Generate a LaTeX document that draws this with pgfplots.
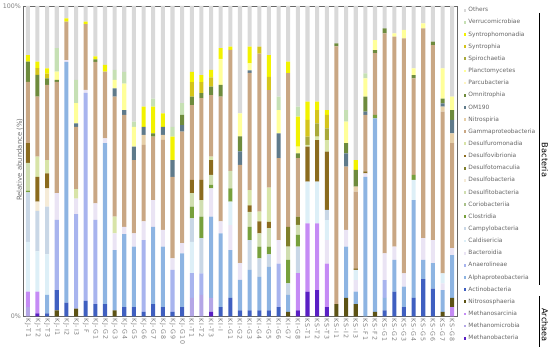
\documentclass[border=0pt]{standalone}
\usepackage{fontspec}
\setmainfont{DejaVu Sans}
\newfontfamily\xlabfont[LetterSpace=15]{DejaVu Sans}
\usepackage{pgfplots}
\usepackage{pgfplotstable}
\pgfplotsset{compat=1.18}

\definecolor{cMb}{HTML}{5A1FC4}
\definecolor{cMm}{HTML}{B4A6E6}
\definecolor{cMs}{HTML}{C58BF5}
\definecolor{cNs}{HTML}{5C5214}
\definecolor{cAc}{HTML}{3F5FC0}
\definecolor{cAl}{HTML}{8DB4E2}
\definecolor{cAn}{HTML}{A8B4EE}
\definecolor{cBd}{HTML}{EAE4F4}
\definecolor{cCd}{HTML}{DDEFF7}
\definecolor{cCp}{HTML}{C9D7E6}
\definecolor{cCl}{HTML}{77A03C}
\definecolor{cCo}{HTML}{A9C08A}
\definecolor{cDt}{HTML}{D0DEB0}
\definecolor{cDb}{HTML}{F5EBD7}
\definecolor{cDm}{HTML}{7F7F2A}
\definecolor{cDv}{HTML}{8B6B1E}
\definecolor{cDu}{HTML}{D8E4A8}
\definecolor{cGa}{HTML}{C9A784}
\definecolor{cNi}{HTML}{E6CFA8}
\definecolor{cOMx}{HTML}{5F7A8A}
\definecolor{cOm}{HTML}{6E8B3D}
\definecolor{cPa}{HTML}{FFF5C0}
\definecolor{cPl}{HTML}{FFFF99}
\definecolor{cSp}{HTML}{A9A93A}
\definecolor{cSy}{HTML}{D4C41C}
\definecolor{cSm}{HTML}{F2F200}
\definecolor{cVe}{HTML}{C6E0B4}
\definecolor{cOt}{HTML}{D9D9D9}

% relative abundance (%), one row per sample
\pgfplotstableread{
x  Mb  Mm  Ms  Ns  Ac  Al   An   Bd  Cd   Cp   Cl  Co Dt  Db  Dm  Dv   Du   Ga   Ni  OM  Om  Pa Pl  Sp  Sy  Sm  Ve  Ot
0  0   3   5   0   0   0    0    0   16   16   0.5 0  9   0   0   6.3  0    19.8 0   0   6.5 0  0   0   0   2.1 0   15.8
1  1   0   7   0   0   0    0    0   13   13   0   0  0   3   0   8    6.5  19.3 0   0   7   0  0   0   2.2 2.1 0   17.9
2  0   0   0   0   1   6    0    0   13   15.4 0   0  0   5.9 0   4.8  4.3  24.2 0   0   2.1 0  0   0   1.5 1.7 0   20.1
3  0   0   0   2   6.5 0    22.6 8.6 0    0    0   0  0   0   0   0    0    35.9 0   0   0.6 0  2.7 0   0   0   7.5 13.6
4  0   0   0   0   4.5 77.5 0    0.6 0    0    0   0  0   0   0   0    0    12.4 0   0   0   0  0   0   0   1   0   4
5  0   0   0   2.5 0   0    30.5 5   0    0    0   0  0   0   0   0    3    20.1 0   1.1 0   0  6.5 0   0   0   7.5 23.8
6  0   0   0   0   5   0    67   1   0    0    0   0  0   0   0   0    0    21.2 0   0   0   0  0   0   0   0.8 0   5
7  0   0   0   0   4   0    27.1 5.3 0    0    0   0  0   0   0   0    0    45.6 0   0   0.8 0  0   0   0   1   0   16.2
8  0   0   0   0   4   51.8 0    1.6 0    0    0   0  0   0   0   0    0    21.5 0   0   0   0  0   0   0   2.1 0   19
9  0   0   0   2   0   19.4 0    5.4 0    0    0   0  0   0   0   0    5.4  38.6 0   2.7 0   0  2.7 0   0   0   3.2 20.6
10 0   0   0   0   3   23.5 0    2.4 0    0    0   0  0   0   0   0    0    36   0   1.6 0   0  8.5 0   0   0   3.8 21.2
11 0   0   0   0   3   19.5 0    4.3 0    0    0   0  0   0   0   0    0    23.6 0   4.3 0   0  6.4 0   0   0   1.7 37.2
12 0   0   0   0   1.5 0    23.1 6   0    0    0   0  0   0   0   0    0    24.7 3.2 2.6 0   0  0   0   0   6.5 0   32.4
13 0   0   0   0   4   24.9 0    8.6 0    0    0   0  0   0   0   0    0    20.4 0   0   1.1 0  0   0   0   8.6 2.6 29.8
14 0   0   0   0   3   19.5 0    5.4 0    0    0   0  0   0   0   0    0    29   1.6 2.6 0   0  0   0   0   4.3 0   34.6
15 0   0   0   0   1.5 0    13.5 3.7 0    0    0   0  0   0   0   0    0    26.3 0   5.4 0   0  0   0   0   7.5 3.2 38.9
16 0   0   0   0   3   17.3 0    3.3 0    0    0   0  0   0   0   0    0    35.9 0   2.1 3.3 0  0   0   0   0   3.8 31.3
17 0   6   0   0   0   0    8    0   10   7.6  3.8 0  4.3 0   0   4.3  0    24.1 0   0   2.7 0  0   0   4.7 3.3 0   21.2
18 0   7   0   0   0   0    6.9  0   0    11.3 7   0  5.3 0   0   6.5  0    26.3 0   0   1.6 0  0   0   3.6 2.2 0   22.3
19 1.5 4.5 0   0   0   26.2 0    9.1 0    0    1.1 0  3.2 0   0   4.8  1.1  19.8 0   0   2.7 0  0   0   3   2.4 0   20.6
20 0   0   0   0   3   23.8 0    3.8 0    0    0   0  0   0   0   0    0    40.2 0   0   3.8 0  8.4 0   0   3.4 0   13.6
21 0   0   0   0   6   15.4 0    8   7.6  0    4.3 0  5.6 0   0   0    0    39   0   0   0   0  0   0   0   1   0   13.1
22 0   0   0   0   2   9.8  0    5.4 0    0    0   0  0   0   0   0    0    31.6 0   4.4 4.8 0  7.4 0   0   0   0   34.6
23 0   0   0   0   2   13   0    0   0    9.6  4.3 0  4.8 0   0   2.1  4.9  37.8 0   0.8 0   0  2.2 0   0   5.4 0   13.1
24 0   0   0   0   2   10.8 0    0   0    5.9  3.8 0  4.3 0   0   3.8  3.2  50.9 0   0   0   0  0   0   2.2 0   0   13.1
25 0   0   0   0   2   14   0    0   0    4    2.5 0  6   0   0   2    11   31.4 0   0   0   0  0   0   4.3 7   0   15.8
26 0   0   0   0   3   0    14   7.6 0    0    0   0  0   0   0   0    0    26.4 0   8   0   0  7.5 0   0   0   4.3 29.2
27 0   0   0   1.5 0   5.5  0    0   0    3.7  7.5 0  4.3 0   6.4 0    0    49.5 0   0   0   0  0   0   0   3.7 0   17.9
28 2   0   12  0   0   0    0    0   0    8.5  3.8 0  3.2 0   2.7 0    0    18.8 0   0   1.5 0  2.2 0   0   9.7 3.2 32.4
29 8   0   22  0   0   0    0    0   13.4 0    0   0  0   0   0   11.3 0.6  0    0   0   0   0  0   2.6 5.4 5.9 0   30.8
30 8.5 0   21.5 0  0   0    0    0   13.4 0    0   0  0   0   0   13.4 1.1  0    0   0   0   0  0   4.3 4.3 2.7 0   30.8
31 3   0   14  0   0   0    0    7.6 6.4  3.3  0   0  0   0   0   18.8 3.7  0    0   0   0   0  0   3.8 4.3 1.6 0   33.5
32 0   0   0   4   0   0    0    0   0    0    0   0  0   0   0   0    0    83   0   0   1   0  0   0   0   0   0   12
33 0   0   0   6   0   16.5 0    5.4 0    0    0   0  0   0   0   0    0    20.4 0   4.2 3.3 0  7   0   0   0   3.7 33.5
34 0   0   0   4   0   4    0    3.7 3.3  0    0   0  0   0   0   0.5  0    24.7 1.6 0   5.4 0  0   0   0   3.2 0   49.6
35 0   0   0   0   0   45   0    1.1 0    0    0   0  0   0   0   0.6  0    18.2 0   1.1 4.8 0  5.9 0   0   0   1.6 21.7
36 0   0   0   1.5 0   62.3 0    0   0    0    1.1 0  0   0   0   0    0    19.9 0   0   1   0  3.2 0   0   0   0   11
37 0   0   0   0   2   4    5.7  8.6 0    0    0   0  0   0   0   0    0    70.9 0   0   1.6 0  0   0   0   0   0   7.2
38 0   0   0   0   8   10.2 0    4.3 0    0    0   0  0   0   0   0    0    67.6 0   0   0   0  1.1 0   0   0   0   8.8
39 0   0   0   0   3   6.6  0    4.3 0    0    0   0  0   0   0   0    0    75.7 0   0   0   0  2.7 0   0   0   0   7.7
40 0   0   0   0   6   31.5 0    0   6.5  0    1.6 0  0   0   0   0    0    31.1 0   0   1   0  2.2 0   0   0   0   20.1
41 0   0   0   0   12  6.2  0    7   0    0    0   0  0   0   0   0    0    67.6 0   0   0   0  1.6 0   0   0   0   5.6
42 0   0   0   0   9   8.2  0    7.4 0    0    0   0  0   0   0   0    0    62.8 0   0   1.1 0  0   0   0   0   0   11.5
43 0   0   0   1.5 0   7    0    2.2 3.2  0    0   0  0   0   0   0    0    52.1 1.6 1   1.6 0  9.7 0   0   0   0   20.1
44 0   0   3   3   0   13.8 0    2.2 0    0    0   0  0   0   0   0    0    33.8 3.2 4.3 3.2 0  4.3 0   0   0   0   29.2
}\data

\begin{document}
\begin{tikzpicture}
\path[use as bounding box] (0,0) rectangle (550pt,350pt);
\begin{axis}[
  at={(23pt,33.5pt)}, anchor=south west,
  scale only axis, width=434pt, height=310.5pt,
  ybar stacked, bar width=0.42,
  xmin=-0.5, xmax=44.5, ymin=0, ymax=100,
  axis line style={black!60},
  major tick length=0pt,
  xtick={0,...,44},
  xticklabels={KJ-T1,KJ-T2,KJ-T3,KJ-I1,KJ-I2,KJ-I3,KJ-F,KJ-G1,KJ-G2,KJ-G3,KJ-G4,KJ-G5,KJ-G6,KJ-G7,KJ-G8,KJ-G9,KJ-G10,KI-T1,KI-T2,KI-T3,KI-I,KI-G1,KI-G2,KI-G3,KI-G4,KI-G5,KI-G6,KI-G7,KI-G8,KS-T1,KS-T2,KS-T3,KS-I1,KS-I2,KS-I3,KS-F1,KS-F2,KS-G1,KS-G2,KS-G3,KS-G4,KS-G5,KS-G6,KS-G7,KS-G8},
  xticklabel style={rotate=-90, anchor=west, inner sep=1.5pt, text=black!50,
    font=\xlabfont\fontsize{6.3}{7}\selectfont},
  ytick={0,100}, yticklabels={0\%,100\%},
  yticklabel style={text=black!50, font=\fontsize{6.3}{7}\selectfont, inner sep=2pt},
  ylabel={Relative abundance (\%)},
  ylabel style={at={(axis description cs:0,0.51)}, anchor=south, xshift=-1.5pt,
    inner sep=0pt, text=black!55, font=\fontsize{6.9}{8}\selectfont},
  /pgf/number format/assume math mode=true,
  reverse legend,
  legend cell align=left,
  legend image code/.code={\draw[#1,draw=none] (0pt,-1.4pt) rectangle (2.8pt,1.4pt);},
  legend style={at={(1,1)}, anchor=north west, xshift=6.5pt, yshift=-0.85pt,
    draw=none, fill=none, inner sep=0pt, row sep=5.85pt, column sep=1.5pt,
    nodes={inner sep=0.5pt, text height=4.3pt, text depth=1pt},
    font=\fontsize{5.9}{6}\selectfont, text=black!60},
]
\addplot[fill=cMb, draw=none] table[x=x, y=Mb] {\data};
\addplot[fill=cMm, draw=none] table[x=x, y=Mm] {\data};
\addplot[fill=cMs, draw=none] table[x=x, y=Ms] {\data};
\addplot[fill=cNs, draw=none] table[x=x, y=Ns] {\data};
\addplot[fill=cAc, draw=none] table[x=x, y=Ac] {\data};
\addplot[fill=cAl, draw=none] table[x=x, y=Al] {\data};
\addplot[fill=cAn, draw=none] table[x=x, y=An] {\data};
\addplot[fill=cBd, draw=none] table[x=x, y=Bd] {\data};
\addplot[fill=cCd, draw=none] table[x=x, y=Cd] {\data};
\addplot[fill=cCp, draw=none] table[x=x, y=Cp] {\data};
\addplot[fill=cCl, draw=none] table[x=x, y=Cl] {\data};
\addplot[fill=cCo, draw=none] table[x=x, y=Co] {\data};
\addplot[fill=cDt, draw=none] table[x=x, y=Dt] {\data};
\addplot[fill=cDb, draw=none] table[x=x, y=Db] {\data};
\addplot[fill=cDm, draw=none] table[x=x, y=Dm] {\data};
\addplot[fill=cDv, draw=none] table[x=x, y=Dv] {\data};
\addplot[fill=cDu, draw=none] table[x=x, y=Du] {\data};
\addplot[fill=cGa, draw=none] table[x=x, y=Ga] {\data};
\addplot[fill=cNi, draw=none] table[x=x, y=Ni] {\data};
\addplot[fill=cOMx, draw=none] table[x=x, y=OM] {\data};
\addplot[fill=cOm, draw=none] table[x=x, y=Om] {\data};
\addplot[fill=cPa, draw=none] table[x=x, y=Pa] {\data};
\addplot[fill=cPl, draw=none] table[x=x, y=Pl] {\data};
\addplot[fill=cSp, draw=none] table[x=x, y=Sp] {\data};
\addplot[fill=cSy, draw=none] table[x=x, y=Sy] {\data};
\addplot[fill=cSm, draw=none] table[x=x, y=Sm] {\data};
\addplot[fill=cVe, draw=none] table[x=x, y=Ve] {\data};
\addplot[fill=cOt, draw=none] table[x=x, y=Ot] {\data};
\legend{Methanobacteria,Methanomicrobia,Methanosarcinia,Nitrososphaeria,Actinobacteria,Alphaproteobacteria,Anaerolineae,Bacteroidia,Caldisericia,Campylobacteria,Clostridia,Coriobacteriia,Desulfitobacteria,Desulfobacteria,Desulfotomaculia,Desulfovibrionia,Desulfuromonadia,Gammaproteobacteria,Nitrospiria,OM190,Omnitrophia,Parcubacteria,Planctomycetes,Spirochaetia,Syntrophia,Syntrophomonadia,Verrucomicrobiae,Others}
\end{axis}
% group brackets beside the legend
\draw[black, line width=0.8pt] (539pt,337pt) -- (539pt,65pt);
\draw[black, line width=0.8pt] (539pt,54pt) -- (539pt,3pt);
\node[rotate=-90, font=\fontsize{8.2}{9}\selectfont, inner sep=0pt] at (545pt,190pt) {Bacteria};
\node[rotate=-90, font=\fontsize{8.2}{9}\selectfont, inner sep=0pt] at (545pt,25pt) {Archaea};
\end{tikzpicture}
\end{document}
